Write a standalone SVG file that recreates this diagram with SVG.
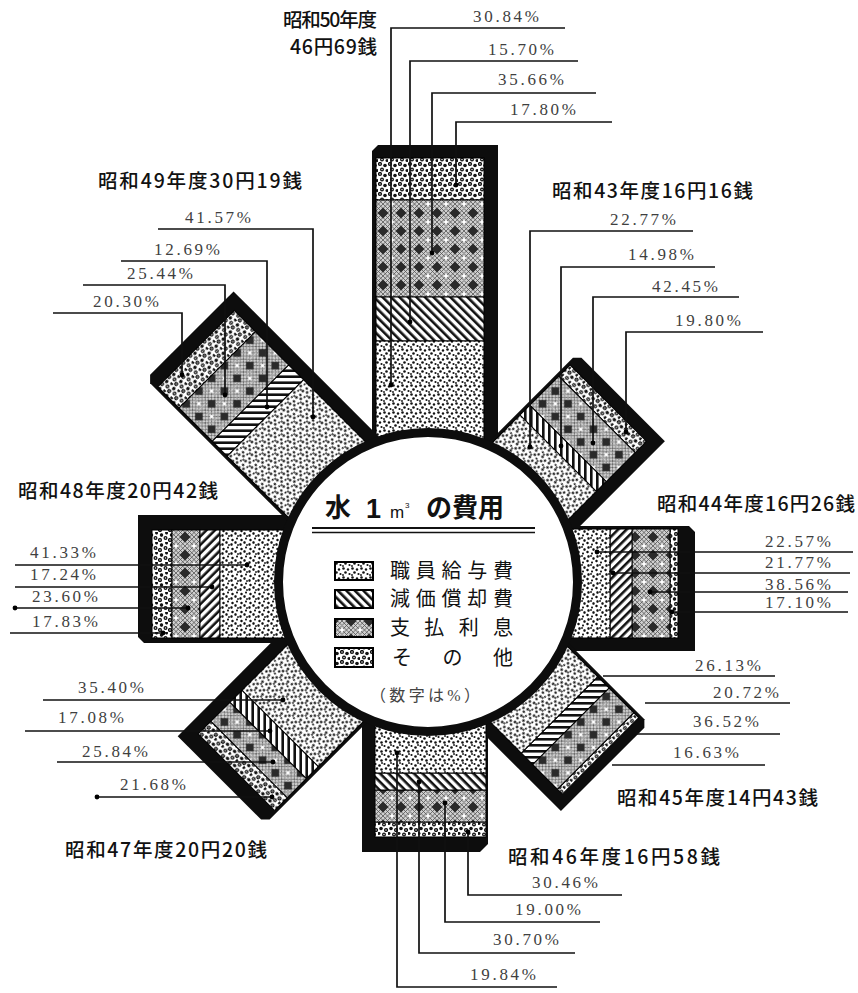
<svg xmlns="http://www.w3.org/2000/svg" width="858" height="993" viewBox="0 0 858 993">
<style>
.frame{fill:#0d0d0d}
.b{stroke:#000;stroke-width:1}
.st{fill:url(#pStaff)}
.dp{fill:url(#pDep)}
.in{fill:url(#pInt)}
.ot{fill:url(#pOther)}
.pct{font-family:'Liberation Serif',serif;font-size:17px;fill:#3f3f3f}
.ttl{font-family:'Noto Sans CJK JP',sans-serif;font-size:19.5px;font-weight:500;fill:#111}
.lg{font-family:'Noto Sans CJK JP',sans-serif;font-size:20px;fill:#111}
.ld{fill:none;stroke:#111;stroke-width:1.7;marker-start:url(#dot)}
</style>
<defs>
<marker id="dot" markerWidth="6" markerHeight="6" refX="3" refY="3" markerUnits="userSpaceOnUse"><circle cx="3" cy="3" r="2.4" fill="#000"/></marker>
<pattern id="pStaff" width="9" height="9" patternUnits="userSpaceOnUse">
<rect width="9" height="9" fill="#fff"/>
<g fill="#111"><circle cx="1.5" cy="1.5" r="1.3"/><circle cx="6" cy="2.5" r="1.2"/><circle cx="3.5" cy="5.5" r="1.3"/><circle cx="7.5" cy="7" r="1.1"/><circle cx="1" cy="8" r="0.9"/></g>
</pattern>
<pattern id="pDep" width="6" height="6" patternUnits="userSpaceOnUse" patternTransform="rotate(-45)">
<rect width="6" height="6" fill="#fff"/><rect width="2.6" height="6" fill="#111"/>
</pattern>
<pattern id="pInt" width="18" height="18" patternUnits="userSpaceOnUse">
<rect width="18" height="18" fill="#cfcfcf"/>
<path d="M0 0L18 18M0 4.5L13.5 18M0 9L9 18M0 13.5L4.5 18M4.5 0L18 13.5M9 0L18 9M13.5 0L18 4.5M0 18L18 0M0 13.5L13.5 0M0 9L9 0M0 4.5L4.5 0M4.5 18L18 4.5M9 18L18 9M13.5 18L18 13.5" stroke="#555" stroke-width="0.8" fill="none"/>
<polygon points="9,3.5 14.5,9 9,14.5 3.5,9" fill="#2a2a2a"/>
<g fill="#fff"><circle cx="0" cy="0" r="1.7"/><circle cx="18" cy="0" r="1.7"/><circle cx="0" cy="18" r="1.7"/><circle cx="18" cy="18" r="1.7"/></g>
</pattern>
<pattern id="pOther" width="10" height="10" patternUnits="userSpaceOnUse">
<rect width="10" height="10" fill="#fff"/>
<g fill="#111"><circle cx="2" cy="2" r="2.1"/><circle cx="7" cy="3.5" r="1.8"/><circle cx="4" cy="7.5" r="2"/><circle cx="9" cy="8.5" r="1.5"/></g>
<g fill="#fff"><circle cx="2" cy="2" r="0.7"/><circle cx="4" cy="7.5" r="0.7"/></g>
</pattern>
</defs>
<rect width="858" height="993" fill="#fff"/>

<g id="node-s50">
<g transform="translate(428,582)">
<path class="frame" d="M-56,-90V-431L-50,-437H70V-90Z"/>
<rect class="ot b" x="-52" y="-424" width="108" height="42"/>
<rect class="in b" x="-52" y="-382" width="108" height="97"/>
<rect class="dp b" x="-52" y="-285" width="108" height="44"/>
<rect class="st b" x="-52" y="-241" width="108" height="151"/>
</g>
<text class="ttl" x="283" y="27" textLength="94">昭和50年度</text>
<text class="ttl" x="290" y="54" textLength="87">46円69銭</text>
<text class="pct" x="473" y="22" textLength="66">30.84%</text>
<text class="pct" x="488" y="55" textLength="66">15.70%</text>
<text class="pct" x="498" y="85" textLength="66">35.66%</text>
<text class="pct" x="510" y="115" textLength="66">17.80%</text>
</g>

<g id="node-s43">
<g transform="translate(428,582) rotate(45)">
<path class="frame" d="M-56,-90V-261L-50,-267H68V-90Z"/>
<rect class="ot b" x="-53" y="-254" width="108" height="16"/>
<rect class="in b" x="-53" y="-238" width="108" height="41"/>
<rect class="dp b" x="-53" y="-197" width="108" height="14"/>
<rect class="st b" x="-53" y="-183" width="108" height="93"/>
</g>
<text class="ttl" x="552" y="198" textLength="201">昭和43年度16円16銭</text>
<text class="pct" x="610" y="225" textLength="66">22.77%</text>
<text class="pct" x="628" y="260" textLength="66">14.98%</text>
<text class="pct" x="652" y="292" textLength="66">42.45%</text>
<text class="pct" x="675" y="326" textLength="66">19.80%</text>
</g>

<g id="node-s44">
<g transform="translate(428,582) rotate(90)">
<path class="frame" d="M-56,-90V-261L-50,-267H69V-90Z"/>
<rect class="ot b" x="-53" y="-250" width="109" height="8"/>
<rect class="in b" x="-53" y="-242" width="109" height="38"/>
<rect class="dp b" x="-53" y="-204" width="109" height="22"/>
<rect class="st b" x="-53" y="-182" width="109" height="92"/>
</g>
<text class="ttl" x="657" y="511" textLength="198">昭和44年度16円26銭</text>
<text class="pct" x="765" y="547" textLength="66">22.57%</text>
<text class="pct" x="765" y="568" textLength="66">21.77%</text>
<text class="pct" x="765" y="590" textLength="66">38.56%</text>
<text class="pct" x="765" y="608" textLength="66">17.10%</text>
</g>

<g id="node-s45">
<g transform="translate(428,582) rotate(135)">
<path class="frame" d="M-56,-90V-250L-50,-256H68V-90Z"/>
<rect class="ot b" x="-53" y="-245" width="108" height="7"/>
<rect class="in b" x="-53" y="-238" width="108" height="35"/>
<rect class="dp b" x="-53" y="-203" width="108" height="16"/>
<rect class="st b" x="-53" y="-187" width="108" height="97"/>
</g>
<text class="ttl" x="617" y="805" textLength="201">昭和45年度14円43銭</text>
<text class="pct" x="695" y="671" textLength="66">26.13%</text>
<text class="pct" x="713" y="698" textLength="66">20.72%</text>
<text class="pct" x="693" y="727" textLength="66">36.52%</text>
<text class="pct" x="673" y="758" textLength="66">16.63%</text>
</g>

<g id="node-s46">
<g transform="translate(428,582) rotate(180)">
<path class="frame" d="M-60,-90V-262L-52,-270H66V-90Z"/>
<rect class="ot b" x="-58" y="-255" width="111" height="15"/>
<rect class="in b" x="-58" y="-240" width="111" height="32"/>
<rect class="dp b" x="-58" y="-208" width="111" height="17"/>
<rect class="st b" x="-58" y="-191" width="111" height="101"/>
</g>
<text class="ttl" x="508" y="864" textLength="212">昭和46年度16円58銭</text>
<text class="pct" x="532" y="888" textLength="66">30.46%</text>
<text class="pct" x="515" y="915" textLength="66">19.00%</text>
<text class="pct" x="493" y="945" textLength="66">30.70%</text>
<text class="pct" x="470" y="980" textLength="66">19.84%</text>
</g>

<g id="node-s47">
<g transform="translate(428,582) rotate(225)">
<path class="frame" d="M-56,-90V-280L-50,-286H68V-90Z"/>
<rect class="ot b" x="-53" y="-270" width="108" height="18"/>
<rect class="in b" x="-53" y="-252" width="108" height="27"/>
<rect class="dp b" x="-53" y="-225" width="108" height="17"/>
<rect class="st b" x="-53" y="-208" width="108" height="118"/>
</g>
<text class="ttl" x="65" y="857" textLength="202">昭和47年度20円20銭</text>
<text class="pct" x="78" y="693" textLength="66">35.40%</text>
<text class="pct" x="58" y="723" textLength="66">17.08%</text>
<text class="pct" x="82" y="757" textLength="66">25.84%</text>
<text class="pct" x="120" y="790" textLength="66">21.68%</text>
</g>

<g id="node-s48">
<g transform="translate(428,582) rotate(270)">
<path class="frame" d="M-61,-90V-284L-55,-290H67V-90Z"/>
<rect class="ot b" x="-56" y="-276" width="108" height="20"/>
<rect class="in b" x="-56" y="-256" width="108" height="28"/>
<rect class="dp b" x="-56" y="-228" width="108" height="20"/>
<rect class="st b" x="-56" y="-208" width="108" height="118"/>
</g>
<text class="ttl" x="18" y="498" textLength="200">昭和48年度20円42銭</text>
<text class="pct" x="30" y="558" textLength="66">41.33%</text>
<text class="pct" x="30" y="580" textLength="66">17.24%</text>
<text class="pct" x="32" y="602" textLength="66">23.60%</text>
<text class="pct" x="32" y="627" textLength="66">17.83%</text>
</g>

<g id="node-s49">
<g transform="translate(428,582) rotate(315)">
<path class="frame" d="M-56,-90V-337L-50,-343H68V-90Z"/>
<rect class="ot b" x="-53" y="-329" width="108" height="30"/>
<rect class="in b" x="-53" y="-299" width="108" height="47"/>
<rect class="dp b" x="-53" y="-252" width="108" height="21"/>
<rect class="st b" x="-53" y="-231" width="108" height="141"/>
</g>
<text class="ttl" x="98" y="188" textLength="204">昭和49年度30円19銭</text>
<text class="pct" x="185" y="223" textLength="66">41.57%</text>
<text class="pct" x="154" y="255" textLength="66">12.69%</text>
<text class="pct" x="127" y="279" textLength="66">25.44%</text>
<text class="pct" x="93" y="307" textLength="66">20.30%</text>
</g>

<g id="node-center">
<circle cx="428" cy="582" r="149.5" fill="#fff" stroke="#0d0d0d" stroke-width="9"/>
<text x="325" y="517" font-family="'Noto Sans CJK JP',sans-serif" font-size="26" font-weight="bold" fill="#111">水</text>
<text x="366" y="518" font-family="'Liberation Sans',sans-serif" font-size="27" font-weight="bold" fill="#111">1</text>
<text x="390" y="518" font-family="'Liberation Sans',sans-serif" font-size="17" fill="#111">m</text>
<text x="405" y="508" font-family="'Liberation Sans',sans-serif" font-size="8" fill="#111">3</text>
<text x="426" y="517" font-family="'Noto Sans CJK JP',sans-serif" font-size="26" font-weight="bold" fill="#111" textLength="78">の費用</text>
<line x1="312" y1="528" x2="535" y2="528" stroke="#111" stroke-width="2.2"/>
<line x1="312" y1="532.5" x2="535" y2="532.5" stroke="#111" stroke-width="1.4"/>
<rect class="st" x="335" y="562" width="38" height="18" stroke="#000" stroke-width="2"/>
<rect class="dp" x="335" y="590" width="38" height="18" stroke="#000" stroke-width="2"/>
<rect class="in" x="335" y="619" width="38" height="18" stroke="#000" stroke-width="2"/>
<rect class="ot" x="335" y="648" width="38" height="19" stroke="#000" stroke-width="2"/>
<text class="lg" x="390" y="578" textLength="123">職員給与費</text>
<text class="lg" x="390" y="606" textLength="123">減価償却費</text>
<text class="lg" x="390" y="635" textLength="123">支払利息</text>
<text class="lg" x="392" y="665" textLength="121">その他</text>
<text x="370" y="701" font-family="'Liberation Serif','Noto Sans CJK JP',serif" font-size="16" fill="#444" textLength="110">（数字は%）</text>
</g>

<g id="connectors">
<polyline class="ld" points="391,385 391,28 565,28"/>
<polyline class="ld" points="410,322 410,61 578,61"/>
<polyline class="ld" points="432,253 432,93 596,93"/>
<polyline class="ld" points="456,185 456,122 612,122"/>
<polyline class="ld" points="530,447 530,231 693,231"/>
<polyline class="ld" points="561,446 561,267 715,267"/>
<polyline class="ld" points="593,443 593,297 739,297"/>
<polyline class="ld" points="626,432 626,332 763,332"/>
<polyline class="ld" points="597,552 853,552"/>
<polyline class="ld" points="613,573 850,573"/>
<polyline class="ld" points="650,592 848,592"/>
<polyline class="ld" points="672,612 848,612"/>
<polyline class="ld" points="603,676 775,676" style="marker-start:none"/>
<polyline class="ld" points="645,703 790,703" style="marker-start:none"/>
<polyline class="ld" points="637,734 780,734" style="marker-start:none"/>
<polyline class="ld" points="612,765 765,765" style="marker-start:none"/>
<polyline class="ld" points="468,832 468,895 622,895"/>
<polyline class="ld" points="445,803 445,922 600,922"/>
<polyline class="ld" points="419,782 419,953 575,953"/>
<polyline class="ld" points="397,753 397,987 557,987"/>
<polyline class="ld" points="283,700 43,700"/>
<polyline class="ld" points="270,731 25,731"/>
<polyline class="ld" points="273,762 57,762"/>
<polyline class="ld" points="272,797 97,797" style="marker-end:url(#dot)"/>
<polyline class="ld" points="247,565 15,565"/>
<polyline class="ld" points="212,587 15,587"/>
<polyline class="ld" points="188,608 15,608" style="marker-end:url(#dot)"/>
<polyline class="ld" points="163,633 10,633"/>
<polyline class="ld" points="313,417 313,229 158,229"/>
<polyline class="ld" points="267,407 267,261 121,261"/>
<polyline class="ld" points="225,395 225,285 83,285"/>
<polyline class="ld" points="182,375 182,313 53,313"/>
</g>
</svg>
